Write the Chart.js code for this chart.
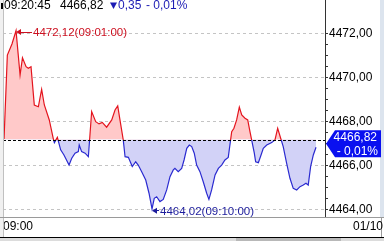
<!DOCTYPE html>
<html>
<head>
<meta charset="utf-8">
<script src="https://cdn.jsdelivr.net/npm/chart.js@4.4.0/dist/chart.umd.min.js"></script>
<style>
  html, body { margin: 0; padding: 0; background: #fff; overflow: hidden; }
  #wrap { width: 384px; height: 241px; }
  canvas { display: block; }
</style>
</head>
<body>
<div id="wrap"><canvas id="priceChart" width="384" height="241"></canvas></div>
<script>
  // minutes after 09:00 and index price
  const minutes = [0.07, 0.29, 0.60, 0.87, 1.14, 1.30, 1.54, 1.69, 1.87, 2.09, 2.36, 2.58, 2.76, 3.09, 3.36, 3.43, 3.63,
    3.85, 4.07, 4.41, 4.59, 4.81, 5.03, 5.09, 5.25, 5.48, 5.70, 5.92, 6.19, 6.41, 6.63, 6.92, 7.26, 7.48, 7.66, 7.81,
    8.03, 8.15, 8.37, 8.63, 8.86, 9.03, 9.26, 9.53, 9.75, 9.95, 10.10, 10.26, 10.48, 10.70, 10.93, 11.15, 11.37, 11.48,
    11.70, 11.93, 12.09, 12.27, 12.44, 12.60, 12.77, 12.93, 13.15, 13.37, 13.60, 13.75, 13.93, 14.16, 14.38, 14.60,
    14.82, 15.04, 15.27, 15.42, 15.60, 15.78, 15.94, 16.16, 16.34, 16.49, 16.78, 16.87, 17.05, 17.23, 17.38, 17.61,
    17.94, 18.16, 18.34, 18.54, 18.71, 18.94, 19.16, 19.38, 19.61, 19.83, 20.05, 20.23, 20.38, 20.54, 20.72, 20.90];
  const prices = [4467.20, 4471.01, 4471.51, 4472.12, 4470.10, 4470.88, 4470.48, 4470.41, 4470.48, 4468.74, 4468.66,
    4469.45, 4468.74, 4468.06, 4467.20, 4467.03, 4467.27, 4466.70, 4466.47, 4466.01, 4466.32, 4466.55, 4466.62, 4466.92,
    4466.62, 4466.55, 4466.39, 4468.44, 4467.98, 4467.88, 4467.95, 4467.73, 4468.06, 4468.51, 4468.70, 4468.06, 4467.15,
    4466.39, 4466.36, 4465.94, 4466.16, 4466.01, 4465.71, 4465.33, 4464.73, 4464.02, 4464.50, 4464.57, 4464.35, 4464.45,
    4464.88, 4465.48, 4465.79, 4465.86, 4465.71, 4465.86, 4466.24, 4466.77, 4466.92, 4466.85, 4466.55, 4466.01, 4465.71,
    4465.25, 4464.73, 4464.45, 4464.88, 4465.56, 4465.86, 4466.01, 4466.24, 4466.36, 4467.53, 4467.68, 4468.06, 4468.64,
    4468.29, 4468.14, 4468.06, 4467.53, 4466.55, 4466.16, 4466.12, 4466.47, 4466.77, 4466.92, 4467.03, 4467.15, 4467.68,
    4467.23, 4466.85, 4466.09, 4465.41, 4464.95, 4464.88, 4465.03, 4465.10, 4465.18, 4465.10, 4465.94, 4466.47, 4466.82];
  const prevClose = 4467.17;
  const yLabelTicks = [4464, 4466, 4468, 4470, 4472];
  const xLabelTicks = [0];
  const xLabels = ['09:00'];
  const nowLabel = '09:20:45';
  const dateLabel = '01/10';
  const highTime = '09:01:00';
  const lowTime = '09:10:00';

  const RED = '#e4141e';
  const BLUE = '#2a2ad0';
  const FONT = '"Liberation Sans", Arial, sans-serif';

  const fmt = (v) => v.toFixed(2).replace('.', ',');
  const last = prices[prices.length - 1];
  const change = last - prevClose;
  const pct = change / prevClose * 100;
  const topTick = Math.max(...yLabelTicks);

  // red above the previous close, blue below
  function splitColor(context) {
    const chart = context.chart;
    const area = chart.chartArea;
    if (!area) return RED;
    const py = chart.scales.y.getPixelForValue(prevClose);
    const f = Math.min(1, Math.max(0, (py - area.top) / (area.bottom - area.top)));
    const g = chart.ctx.createLinearGradient(0, area.top, 0, area.bottom);
    g.addColorStop(0, RED);
    g.addColorStop(f, RED);
    g.addColorStop(f, BLUE);
    g.addColorStop(1, BLUE);
    return g;
  }

  function arrowLabel(c, px, py, len, text, color) {
    c.strokeStyle = color;
    c.fillStyle = color;
    c.lineWidth = 1;
    c.beginPath();
    c.moveTo(px + 3, Math.round(py) + 0.5);
    c.lineTo(px + len, Math.round(py) + 0.5);
    c.stroke();
    c.beginPath();
    c.moveTo(px, py + 0.5);
    c.lineTo(px + 5, py - 2.5);
    c.lineTo(px + 5, py + 3.5);
    c.closePath();
    c.fill();
    c.font = '11.5px ' + FONT;
    c.textAlign = 'left';
    c.textBaseline = 'middle';
    c.fillText(text, px + len + 1, py + 1);
  }

  const decor = {
    id: 'decor',
    beforeDraw(chart) {
      const c = chart.ctx;
      c.save();
      c.fillStyle = '#fff';
      c.fillRect(0, 0, 384, 241);
      c.fillStyle = '#f0f0f0';
      c.fillRect(0, 0, 3, 237);
      c.fillStyle = '#dce4ee';
      c.fillRect(380, 0, 4, 217);
      c.restore();
    },
    afterDatasetsDraw(chart) {
      const c = chart.ctx;
      const {x, y} = chart.scales;
      const area = chart.chartArea;
      c.save();
      // previous close
      const py = Math.round(y.getPixelForValue(prevClose)) + 0.5;
      c.strokeStyle = '#000';
      c.lineWidth = 1;
      c.setLineDash([3, 2]);
      c.beginPath();
      c.moveTo(area.left, py);
      c.lineTo(area.right, py);
      c.stroke();
      c.setLineDash([]);
      // high / low marks
      const hi = prices.indexOf(Math.max(...prices));
      const lo = prices.indexOf(Math.min(...prices));
      arrowLabel(c, x.getPixelForValue(minutes[hi]), y.getPixelForValue(prices[hi]) + 1, 16,
        fmt(prices[hi]) + '(' + highTime + ')', '#cc1020');
      arrowLabel(c, x.getPixelForValue(minutes[lo]), y.getPixelForValue(prices[lo]) + 1.5, 7,
        fmt(prices[lo]) + '(' + lowTime + ')', '#1c1c9c');
      c.restore();
    },
    afterDraw(chart) {
      const c = chart.ctx;
      const {y} = chart.scales;
      c.save();
      // frame lines
      c.lineWidth = 1;
      c.strokeStyle = '#c0c0c0';
      c.beginPath();
      c.moveTo(3.5, 0); c.lineTo(3.5, 237);
      c.stroke();
      c.strokeStyle = '#9a9a9a';
      c.beginPath();
      c.moveTo(0, 217.5); c.lineTo(384, 217.5);
      c.moveTo(381.5, 217); c.lineTo(381.5, 237);
      c.stroke();
      c.strokeStyle = '#000';
      c.beginPath();
      c.moveTo(0, 237.5); c.lineTo(384, 237.5);
      c.stroke();
      c.fillStyle = '#dcdcdc';
      c.fillRect(0, 238, 384, 3);
      c.fillStyle = '#b8b8b8';
      c.fillRect(236, 238, 105, 3);

      // date at the right of the time axis
      c.fillStyle = '#000';
      c.font = '12px ' + FONT;
      c.textAlign = 'right';
      c.textBaseline = 'middle';
      c.fillText(dateLabel, 383, 227);

      // header
      c.fillRect(1, 3, 2, 6);
      c.textAlign = 'left';
      c.fillText(nowLabel, 4, 6);
      c.fillText(fmt(last), 60, 6);
      c.fillStyle = '#1c1cb4';
      c.beginPath();
      c.moveTo(110, 2.5); c.lineTo(117, 2.5); c.lineTo(113.5, 9);
      c.closePath();
      c.fill();
      c.fillText(fmt(Math.abs(change)), 118, 6);
      c.fillText('- ' + fmt(Math.abs(pct)) + '%', 146, 6);

      // current price box
      const ty = y.getPixelForValue(last) - 3.5;
      c.fillStyle = '#0a10f0';
      c.beginPath();
      c.moveTo(326, ty);
      c.lineTo(335, ty - 13.5);
      c.lineTo(381, ty - 13.5);
      c.lineTo(381, ty + 13.5);
      c.lineTo(335, ty + 13.5);
      c.closePath();
      c.fill();
      c.fillStyle = '#fff';
      c.textAlign = 'right';
      c.fillText(fmt(last), 377, ty - 6);
      c.fillText('- ' + fmt(Math.abs(pct)) + '%', 378, ty + 7.5);
      c.restore();
    }
  };

  Chart.defaults.font.family = FONT;
  Chart.defaults.font.size = 12;
  Chart.defaults.color = '#000';

  new Chart(document.getElementById('priceChart'), {
    type: 'line',
    data: {
      datasets: [{
        data: minutes.map((m, i) => ({x: m, y: prices[i]})),
        borderColor: splitColor,
        borderWidth: 1.2,
        pointRadius: 0,
        tension: 0,
        fill: {target: {value: prevClose}, above: '#ffc9c9', below: '#d2d2f7'}
      }]
    },
    options: {
      responsive: false,
      animation: false,
      layout: {padding: {left: 3, top: 0, right: 0, bottom: 4}},
      plugins: {legend: {display: false}, tooltip: {enabled: false}},
      scales: {
        x: {
          type: 'linear',
          min: 0,
          max: 21.5,
          grid: {display: false, drawTicks: false},
          border: {display: false},
          ticks: {
            stepSize: 1,
            autoSkip: false,
            maxRotation: 0,
            align: 'start',
            padding: 2,
            includeBounds: false,
            callback: (v) => {
              const k = xLabelTicks.indexOf(v);
              return k >= 0 ? xLabels[k] : '';
            }
          },
          afterFit: (s) => { s.height = 20; s.paddingLeft = 0; s.paddingRight = 0; }
        },
        y: {
          position: 'right',
          min: 4463.65,
          max: 4473.51,
          border: {display: true, color: '#333', dash: [3, 3]},
          grid: {
            color: (ctx) => (ctx.tick && yLabelTicks.includes(ctx.tick.value)) ? '#c4c4c4' : 'transparent',
            tickColor: (ctx) => (ctx.tick && ctx.tick.value > topTick) ? 'transparent' : '#333',
            tickLength: 3,
            drawTicks: true
          },
          ticks: {
            stepSize: 0.5,
            autoSkip: false,
            includeBounds: false,
            padding: 1,
            callback: (v) => yLabelTicks.includes(v) ? fmt(v) : ''
          },
          afterFit: (s) => { s.width = 59; s.paddingTop = 0; s.paddingBottom = 0; }
        }
      }
    },
    plugins: [decor]
  });
</script>
</body>
</html>
